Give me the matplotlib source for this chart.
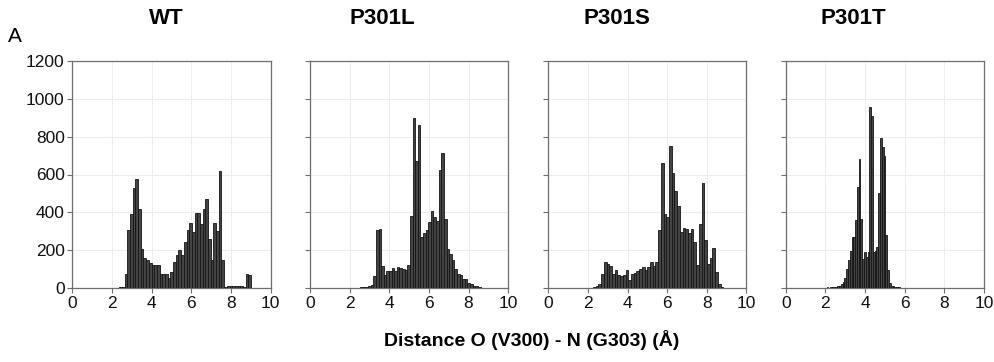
import matplotlib
matplotlib.use('Agg')
import matplotlib.pyplot as plt
import numpy as np

plt.rcParams['font.family'] = ['Liberation Sans', 'DejaVu Sans']

titles = ['WT', 'P301L', 'P301S', 'P301T']

# histogram data: first bin left edge, bin width, counts per bin
wt_start, wt_width = 2.37, 0.1357
wt_counts = [3, 5, 75, 305, 390, 530, 575, 415, 208, 160, 150, 130, 120, 120, 120,
             74, 74, 75, 55, 85, 140, 173, 200, 173, 243, 306, 342, 298, 397, 398,
             336, 415, 472, 260, 146, 342, 303, 617, 148, 7, 9, 10, 12, 12, 12, 12,
             5, 75, 70]

p301l_start, p301l_width = 2.27, 0.132
p301l_counts = [1, 2, 3, 4, 6, 8, 16, 65, 308, 312, 116, 70, 92, 88, 106, 88, 112,
                108, 100, 94, 122, 379, 900, 673, 863, 271, 289, 305, 347, 405, 377,
                352, 624, 715, 365, 206, 181, 150, 100, 74, 70, 48, 48, 25, 19, 12,
                10, 4, 2]

p301s_start, p301s_width = 2.255, 0.137
p301s_counts = [3, 9, 23, 76, 139, 128, 114, 72, 97, 69, 63, 67, 97, 44, 72, 81, 90,
                99, 111, 97, 113, 136, 114, 137, 307, 661, 393, 374, 751, 608, 513,
                433, 296, 319, 314, 292, 314, 245, 120, 340, 555, 254, 125, 157, 213,
                83, 19, 5]

p301t_start, p301t_width = 1.97, 0.09
p301t_counts = [2, 3, 2, 3, 3, 4, 5, 8, 12, 20, 30, 55, 100, 150, 195, 270, 268, 360,
                536, 682, 363, 152, 192, 166, 192, 955, 909, 192, 196, 218, 500, 791,
                745, 700, 280, 95, 28, 12, 8, 5, 4, 3, 2, 2]

panels = [(wt_start, wt_width, wt_counts),
          (p301l_start, p301l_width, p301l_counts),
          (p301s_start, p301s_width, p301s_counts),
          (p301t_start, p301t_width, p301t_counts)]

xticks = [0, 2, 4, 6, 8, 10]
yticks = [0, 200, 400, 600, 800, 1000, 1200]
xlabel = 'Distance O (V300) - N (G303) (Å)'

W, H = 994, 362
fig = plt.figure(figsize=(W / 100, H / 100), dpi=100)

ax_lefts = [72.3, 310.0, 548.3, 785.7]
ax_w = 198.2
ax_top, ax_bot = 61.0, 288.0
title_x = [166, 382, 617, 853]

spine_c = '#6e6e6e'
for i, (start, width, counts) in enumerate(panels):
    ax = fig.add_axes([ax_lefts[i] / W, 1 - ax_bot / H, ax_w / W, (ax_bot - ax_top) / H])
    counts = np.asarray(counts, dtype=float)
    lefts = start + width * np.arange(len(counts))
    ax.bar(lefts, counts, width=width, align='edge', color='#444444',
           edgecolor='#151515', linewidth=0.6, zorder=3)
    ax.set_xlim(0, 10)
    ax.set_ylim(0, 1200)
    ax.set_xticks(xticks)
    ax.set_yticks(yticks)
    ax.grid(True, color='#ededed', linewidth=0.8, zorder=0)
    ax.set_axisbelow(True)
    for s in ax.spines.values():
        s.set_color(spine_c)
        s.set_linewidth(0.9)
    ax.tick_params(axis='both', direction='out', length=3.5, width=0.8,
                   color=spine_c, labelsize=12.5, pad=2, labelcolor='#111111')
    if i > 0:
        ax.set_yticklabels([])
    fig.text(title_x[i] / W, 1 - 18.5 / H, titles[i], ha='center', va='center',
             fontsize=16, fontweight='bold')

fig.text(8 / W, 1 - 36 / H, 'A', ha='left', va='center', fontsize=15)
fig.text(531.5 / W, 1 - 340 / H, xlabel, ha='center', va='center',
         fontsize=14, fontweight='bold')

fig.savefig('out.png', dpi=100)
